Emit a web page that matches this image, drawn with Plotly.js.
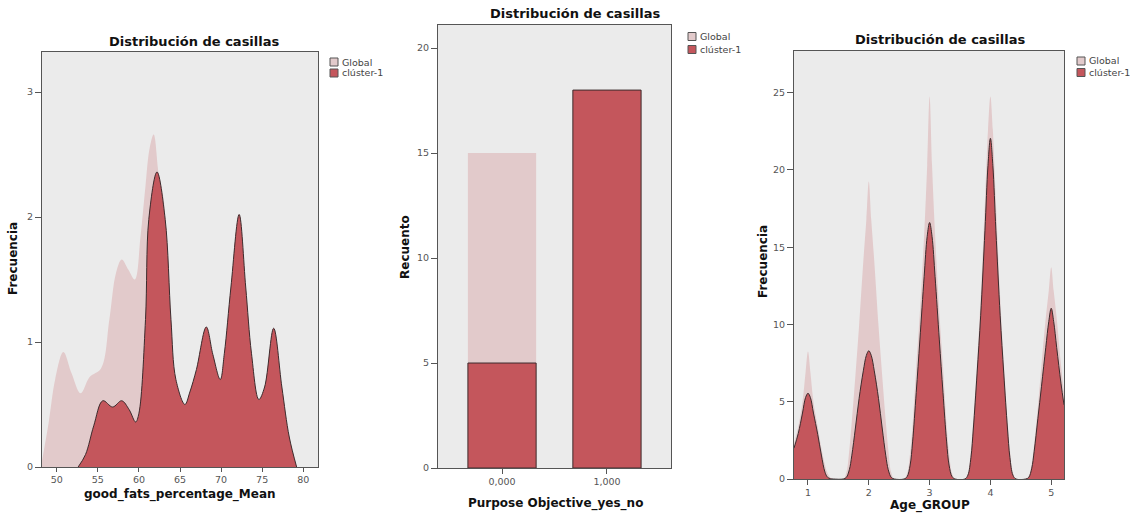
<!DOCTYPE html>
<html><head><meta charset="utf-8">
<script src="https://cdn.plot.ly/plotly-3.0.1.min.js"></script>
<style>html,body{margin:0;padding:0;background:#fff;}</style>
</head><body>
<div id="chart" style="width:1131px;height:517px"></div>
<script>
// ---- Data: panel 1 (good_fats_percentage_Mean) ----
const fatGlobalX = [48.2, 49.0, 49.8, 50.8, 51.8, 52.9, 54.0, 55.4, 56.4, 57.2, 57.9, 58.7, 59.5, 60.2, 60.8, 61.3, 61.8, 62.4, 63.0, 63.6, 64.5, 65.6, 66.2, 67.0, 68.2, 69.0, 69.9, 70.4, 71.2, 72.2, 73.0, 73.7, 74.6, 75.3, 76.4, 77.4, 78.3, 79.2];
const fatGlobalY = [0.05, 0.35, 0.70, 0.92, 0.75, 0.59, 0.72, 0.79, 1.18, 1.55, 1.66, 1.58, 1.50, 1.85, 2.25, 2.55, 2.66, 2.35, 2.15, 1.60, 0.70, 0.50, 0.60, 0.78, 1.12, 0.90, 0.70, 0.91, 1.44, 2.02, 1.44, 0.91, 0.54, 0.64, 1.11, 0.64, 0.24, 0.0];
const fatClusterX = [52.6, 53.5, 54.5, 55.6, 56.8, 57.9, 58.8, 59.6, 60.0, 60.8, 61.2, 62.2, 63.2, 63.9, 64.5, 65.6, 66.2, 67.0, 68.2, 69.0, 69.9, 70.4, 71.2, 72.2, 73.0, 73.7, 74.6, 75.3, 76.4, 77.4, 78.3, 79.2];
const fatClusterY = [0, 0.10, 0.33, 0.53, 0.48, 0.53, 0.46, 0.36, 0.43, 1.18, 1.98, 2.36, 1.98, 1.18, 0.70, 0.50, 0.60, 0.78, 1.12, 0.90, 0.70, 0.91, 1.44, 2.02, 1.44, 0.91, 0.54, 0.64, 1.11, 0.64, 0.24, 0];
const fatTicks = [50, 55, 60, 65, 70, 75, 80];
const freqTicks1 = [0, 1, 2, 3];

// ---- Data: panel 2 (Purpose Objective_yes_no) ----
const purposeCats = ['0,000', '1,000'];
const purposeGlobal = [15, 18];
const purposeCluster = [5, 18];
const countTicks = [0, 5, 10, 15, 20];

// ---- Data: panel 3 (Age_GROUP) ----
const ageX = [0.77, 0.84, 0.91, 0.96, 1.0, 1.04, 1.09, 1.16, 1.22, 1.28, 1.32, 1.37, 1.42,
  1.58, 1.63, 1.68, 1.72, 1.78, 1.84, 1.91, 1.96, 2.0, 2.04, 2.09, 2.16, 2.22, 2.28, 2.32, 2.37, 2.42,
  2.58, 2.63, 2.68, 2.72, 2.78, 2.84, 2.91, 2.96, 3.0, 3.04, 3.09, 3.16, 3.22, 3.28, 3.32, 3.37, 3.42,
  3.58, 3.63, 3.68, 3.72, 3.78, 3.84, 3.91, 3.96, 4.0, 4.04, 4.09, 4.16, 4.22, 4.28, 4.32, 4.37, 4.42,
  4.58, 4.63, 4.68, 4.72, 4.78, 4.84, 4.91, 4.96, 5.0, 5.04, 5.09, 5.16, 5.21];
const ageGlobalY = [2.3, 3.4, 5.0, 6.9, 8.25, 6.9, 5.0, 3.4, 2.0, 0.9, 0.4, 0.08, 0,
  0, 0.4, 1.9, 3.7, 6.7, 9.9, 14.1, 16.8, 19.25, 16.8, 14.1, 9.9, 6.7, 3.7, 1.9, 0.4, 0,
  0, 0.35, 1.7, 3.5, 7.3, 10.8, 15.8, 20.3, 24.75, 20.3, 15.8, 10.8, 7.3, 3.5, 1.7, 0.35, 0,
  0, 0.4, 1.9, 3.9, 7.6, 11.8, 18.0, 22.6, 24.75, 22.6, 18.0, 11.8, 7.6, 3.9, 1.9, 0.4, 0,
  0, 0.2, 1.0, 2.3, 4.7, 7.4, 10.4, 12.2, 13.7, 12.2, 10.4, 7.4, 5.6];
const ageClusterY = [2.0, 2.95, 4.27, 5.27, 5.55, 5.27, 4.27, 2.89, 1.55, 0.44, 0.12, 0.02, 0,
  0, 0.1, 0.6, 1.5, 3.3, 5.2, 7.0, 8.0, 8.3, 8.0, 7.0, 5.2, 3.3, 1.5, 0.6, 0.1, 0,
  0, 0.15, 0.9, 2.4, 5.6, 9.0, 13.1, 15.7, 16.6, 15.7, 13.1, 9.0, 5.6, 2.4, 0.9, 0.15, 0,
  0, 0.25, 1.4, 3.3, 6.8, 10.6, 16.1, 20.3, 22.05, 20.3, 16.1, 10.6, 6.8, 3.3, 1.4, 0.25, 0,
  0, 0.1, 0.7, 1.8, 3.9, 6.0, 8.5, 10.2, 11.05, 10.2, 8.5, 6.2, 4.8];
const ageTicks = [1, 2, 3, 4, 5];
const freqTicks3 = [0, 5, 10, 15, 20, 25];

// ---- Text ----
const chartTitle = 'Distribución de casillas';
const legendNames = ['Global', 'clúster-1'];

// ---- Styles ----
const W = 1131, H = 517;
const PINK = '#e2cacb', RED = '#c4565c', OUTLINE = '#3d2b2d', BG = '#ebebeb';
const AXC = '#555', FONT = 'DejaVu Sans, Verdana, sans-serif';
const px = v => v / W, py = v => 1 - v / H;

const tickfont = {family: FONT, size: 9.5, color: '#555'};
function xax(domain, range, extra) {
  return Object.assign({domain: [px(domain[0]), px(domain[1])], range: range, showgrid: false, zeroline: false,
    showline: true, linecolor: AXC, linewidth: 1, mirror: true, ticks: 'outside', ticklen: 4, tickcolor: AXC,
    tickfont: tickfont, fixedrange: true}, extra || {});
}
function yax(domain, range, extra) {
  return Object.assign({domain: [py(domain[1]), py(domain[0])], range: range, showgrid: false, zeroline: false,
    showline: true, linecolor: AXC, linewidth: 1, mirror: true, ticks: 'outside', ticklen: 6, tickcolor: AXC,
    tickfont: tickfont, fixedrange: true}, extra || {});
}

const traces = [
  {x: fatGlobalX, y: fatGlobalY, type: 'scatter', mode: 'lines', fill: 'tozeroy', fillcolor: PINK,
   line: {shape: 'spline', width: 0, color: PINK}, xaxis: 'x', yaxis: 'y', showlegend: false},
  {x: fatClusterX, y: fatClusterY, type: 'scatter', mode: 'lines', fill: 'tozeroy', fillcolor: RED,
   line: {shape: 'spline', width: 1, color: OUTLINE}, xaxis: 'x', yaxis: 'y', showlegend: false},
  {x: purposeCats, y: purposeGlobal, type: 'bar', width: 0.65, marker: {color: PINK, line: {width: 0}},
   xaxis: 'x2', yaxis: 'y2', showlegend: false},
  {x: purposeCats, y: purposeCluster, type: 'bar', width: 0.65, marker: {color: RED, line: {width: 1, color: OUTLINE}},
   xaxis: 'x2', yaxis: 'y2', showlegend: false},
  {x: ageX, y: ageGlobalY, type: 'scatter', mode: 'lines', fill: 'tozeroy', fillcolor: PINK,
   line: {shape: 'spline', width: 0, color: PINK}, xaxis: 'x3', yaxis: 'y3', showlegend: false},
  {x: ageX, y: ageClusterY, type: 'scatter', mode: 'lines', fill: 'tozeroy', fillcolor: RED,
   line: {shape: 'spline', width: 1, color: OUTLINE}, xaxis: 'x3', yaxis: 'y3', showlegend: false}
];

const annotations = [];
const shapes = [];
function txt(text, x, y, size, bold, angle, anchor) {
  annotations.push({text: bold ? '<b>' + text + '</b>' : text, x: px(x), y: py(y), xref: 'paper', yref: 'paper',
    showarrow: false, xanchor: anchor || 'center', yanchor: 'middle', textangle: angle || 0,
    font: {family: FONT, size: size, color: bold ? '#111' : '#444'}});
}
function legend(x, y0, dy) {
  [PINK, RED].forEach((c, i) => {
    const yc = y0 + i * dy;
    shapes.push({type: 'rect', xref: 'paper', yref: 'paper', x0: px(x), x1: px(x + 8), y0: py(yc + 4), y1: py(yc - 4),
      fillcolor: c, line: {color: '#555', width: 1}});
    txt(legendNames[i], x + 10, yc, 9.5, false, 0, 'left');
  });
}

// Titles
txt(chartTitle, 194, 41, 13, true);
txt(chartTitle, 575, 13, 13, true);
txt(chartTitle, 940, 40, 13, true);
// Axis titles
txt('good_fats_percentage_Mean', 180, 494, 12, true);
txt('Frecuencia', 13, 259, 12, true, -90);
txt('Purpose Objective_yes_no', 555, 503, 12, true);
txt('Recuento', 405, 247, 12, true, -90);
txt('Age_GROUP', 930, 505, 12, true);
txt('Frecuencia', 763, 262, 12, true, -90);
// Legends
legend(330, 62, 11);
legend(688, 36.5, 13);
legend(1077, 61, 11.5);

const layout = {
  width: W, height: H, margin: {l: 0, r: 0, t: 0, b: 0}, paper_bgcolor: '#fff', plot_bgcolor: BG,
  showlegend: false, barmode: 'overlay', hovermode: false,
  xaxis: xax([42, 318], [48.2, 81.8], {tickvals: fatTicks, anchor: 'y'}),
  yaxis: yax([52, 467], [0, 3.32], {tickvals: freqTicks1, anchor: 'x'}),
  xaxis2: xax([438, 671], [-0.61, 1.61], {type: 'category', ticklen: 5, anchor: 'y2'}),
  yaxis2: yax([25, 468], [0, 21.1], {tickvals: countTicks, anchor: 'x2'}),
  xaxis3: xax([794, 1064], [0.77, 5.21], {tickvals: ageTicks, ticklen: 5, anchor: 'y3'}),
  yaxis3: yax([51, 479], [0, 27.7], {tickvals: freqTicks3, anchor: 'x3'}),
  annotations: annotations, shapes: shapes
};
Plotly.newPlot('chart', traces, layout, {staticPlot: true, displayModeBar: false});
</script>
</body></html>
